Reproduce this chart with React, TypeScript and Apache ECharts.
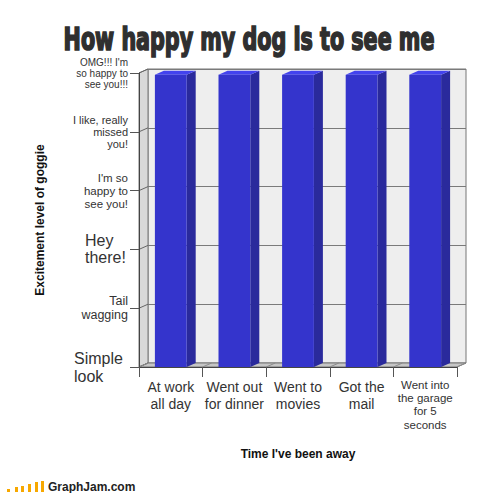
import React, { useEffect, useRef } from 'react';
import * as echarts from 'echarts';

const TITLE = 'How happy my dog is to see me';
const categories = [
  'At work\nall day',
  'Went out\nfor dinner',
  'Went to\nmovies',
  'Got the\nmail',
  'Went into\nthe garage\nfor 5\nseconds',
];
const excitement = [4.97, 4.97, 4.97, 4.97, 4.97];
const levelLabels = [
  'Simple\nlook',
  'Tail\nwagging',
  'Hey\nthere!',
  "I'm so\nhappy to\nsee you!",
  'I like, really\nmissed\nyou!',
  "OMG!!! I'm\nso happy to\nsee you!!!",
];
const levelMin = 0;
const levelMax = 5;
const levelStep = 1;
const yName = 'Excitement level of goggie';
const xName = "Time I've been away";
const LOGO = 'GraphJam.com';

const DX = 9;
const DY = -4;
const FONT = '"Liberation Sans", Arial, sans-serif';

export default function App() {
  const ref = useRef<HTMLDivElement>(null);
  useEffect(() => {
    if (!ref.current) return;
    const chart = echarts.init(ref.current, undefined, { renderer: 'svg' });

    const titleFamily = '"DejaVu Sans Condensed", "DejaVu Sans", sans-serif';
    let titleScale = 0.8;
    try {
      const ctx = document.createElement('canvas').getContext('2d');
      if (ctx) {
        ctx.font = `bold 30px ${titleFamily}`;
        const w = ctx.measureText(TITLE).width;
        if (w > 0) titleScale = 371 / w;
      }
    } catch (e) {}

    const barData = categories.map((_, i) => [i, excitement[i]]);
    const ticks: number[] = [];
    for (let v = levelMin; v <= levelMax + 1e-9; v += levelStep) ticks.push(v);

    const yRich: any = {
      y0: { fontSize: 16, lineHeight: 18, width: 54, align: 'left', color: '#333', fontFamily: FONT },
      y1: { fontSize: 12.5, lineHeight: 14, color: '#333', fontFamily: FONT },
      y2: { fontSize: 16, lineHeight: 17, width: 43, align: 'left', color: '#333', fontFamily: FONT },
      y3: { fontSize: 11.5, lineHeight: 13, color: '#333', fontFamily: FONT },
      y4: { fontSize: 11, lineHeight: 12, color: '#333', fontFamily: FONT },
      y5: { fontSize: 10, lineHeight: 11, color: '#333', fontFamily: FONT },
    };

    const logoHeights = [3, 5, 6, 8, 10, 11];
    const logoX = [7, 15, 21, 28, 35, 41];

    const option: any = {
      animation: false,
      backgroundColor: '#ffffff',
      grid: [
        { left: 139, top: 73, right: 43, bottom: 126, outerBoundsMode: 'none', containLabel: false, z: 3 },
        {
          left: 139 + DX, top: 73 + DY, right: 43 - DX, bottom: 126 - DY,
          show: true, backgroundColor: '#eeeeee', borderColor: '#777', borderWidth: 1,
          outerBoundsMode: 'none', containLabel: false, z: 0,
        },
      ],
      xAxis: [
        {
          type: 'category', gridIndex: 0, data: categories, z: 10,
          boundaryGap: true,
          name: xName, nameLocation: 'middle', nameGap: 81,
          nameTextStyle: { fontSize: 12, fontWeight: 'bold', color: '#111', fontFamily: FONT },
          axisLine: { show: true, lineStyle: { color: '#444', width: 1 } },
          axisTick: { show: true, length: 10, lineStyle: { color: '#555' } },
          axisLabel: {
            interval: 0, margin: 11, hideOverlap: false,
            formatter: (v: string, i: number) => {
              const k = i === 4 ? 'cs' : 'c';
              return v.split('\n').map((s) => `{${k}|${s}}`).join('\n');
            },
            rich: {
              c: { fontSize: 14, lineHeight: 17, color: '#333', fontFamily: FONT },
              cs: { fontSize: 11.5, lineHeight: 13.3, color: '#333', fontFamily: FONT },
            },
          },
          splitLine: { show: false },
        },
        { type: 'category', gridIndex: 1, data: categories, show: false },
      ],
      yAxis: [
        {
          type: 'value', gridIndex: 0, min: levelMin, max: levelMax, interval: levelStep, z: 10,
          name: yName, nameLocation: 'middle', nameGap: 93,
          nameTextStyle: { fontSize: 12, fontWeight: 'bold', color: '#111', fontFamily: FONT },
          axisLine: { show: true, lineStyle: { color: '#444', width: 1 } },
          axisTick: { show: true, length: 9, lineStyle: { color: '#555' } },
          splitLine: { show: false },
          axisLabel: {
            margin: 11,
            formatter: (v: number) => {
              const i = Math.round((v - levelMin) / levelStep);
              const t = levelLabels[i];
              if (t === undefined) return '';
              return t.split('\n').map((s) => `{y${i}|${s}}`).join('\n');
            },
            rich: yRich,
          },
        },
        {
          type: 'value', gridIndex: 1, min: levelMin, max: levelMax, interval: levelStep,
          axisLine: { show: false }, axisTick: { show: false }, axisLabel: { show: false },
          splitLine: { show: true, lineStyle: { color: '#7a7a7a', width: 1 } },
        },
      ],
      series: [
        {
          type: 'custom',
          xAxisIndex: 0, yAxisIndex: 0, z: 1,
          data: [[0, 0]],
          silent: true,
          renderItem: (params: any, api: any) => {
            const cs = params.coordSys;
            const x0 = cs.x, y0 = cs.y, w = cs.width, h = cs.height;
            const yb = y0 + h;
            const children: any[] = [];
            children.push({
              type: 'polygon',
              shape: { points: [[x0, y0], [x0 + DX, y0 + DY], [x0 + DX, yb + DY], [x0, yb]] },
              style: { fill: '#d9d9d9', stroke: '#777', lineWidth: 1 },
            });
            children.push({
              type: 'polygon',
              shape: { points: [[x0, yb], [x0 + DX, yb + DY], [x0 + w + DX, yb + DY], [x0 + w, yb]] },
              style: { fill: '#c6c6c6', stroke: '#777', lineWidth: 1 },
            });
            ticks.forEach((v) => {
              const y = api.coord([0, v])[1];
              children.push({
                type: 'line',
                shape: { x1: x0, y1: y, x2: x0 + DX, y2: y + DY },
                style: { stroke: '#666', lineWidth: 1 },
              });
            });
            const band = api.size([1, 0])[0];
            for (let i = 0; i <= categories.length; i++) {
              const x = api.coord([Math.min(i, categories.length - 1), 0])[0] + (i === categories.length ? band / 2 : -band / 2);
              children.push({
                type: 'line',
                shape: { x1: x, y1: yb, x2: x + DX, y2: yb + DY },
                style: { stroke: '#8a8a8a', lineWidth: 1 },
              });
            }
            return { type: 'group', children };
          },
        },
        {
          type: 'custom',
          xAxisIndex: 0, yAxisIndex: 0, z: 2,
          data: barData,
          encode: { x: 0, y: 1 },
          renderItem: (params: any, api: any) => {
            const idx = api.value(0);
            const val = api.value(1);
            const top = api.coord([idx, val]);
            const base = api.coord([idx, levelMin]);
            const band = api.size([1, 0])[0];
            const bw = band * 0.5;
            const xl = top[0] - bw / 2;
            const xr = top[0] + bw / 2;
            const yt = top[1];
            const yb = base[1];
            return {
              type: 'group',
              children: [
                {
                  type: 'polygon',
                  shape: { points: [[xr, yt], [xr + DX, yt + DY], [xr + DX, yb + DY], [xr, yb]] },
                  style: { fill: '#2a2a9c' },
                },
                {
                  type: 'polygon',
                  shape: { points: [[xl, yt], [xl + DX, yt + DY], [xr + DX, yt + DY], [xr, yt]] },
                  style: { fill: '#4343ee' },
                },
                {
                  type: 'rect',
                  shape: { x: xl, y: yt, width: bw, height: yb - yt },
                  style: { fill: '#3434cc' },
                },
              ],
            };
          },
        },
      ],
      graphic: [
        {
          type: 'text',
          x: 249, y: 39, scaleX: titleScale, scaleY: 1.04,
          style: {
            text: TITLE,
            fontSize: 30, fontWeight: 'bold', fontFamily: titleFamily,
            fill: '#2f2f2f', stroke: '#2f2f2f', lineWidth: 1.6,
            align: 'center', verticalAlign: 'middle',
            textAlign: 'center', textVerticalAlign: 'middle',
          },
        },
        ...logoHeights.map((hgt, i) => ({
          type: 'rect',
          shape: { x: logoX[i], y: 492 - hgt, width: 3, height: hgt },
          style: { fill: '#f7a800' },
        })),
        {
          type: 'text',
          x: 48, y: 487,
          style: {
            text: LOGO, fontSize: 12, fontWeight: 'bold', fontFamily: FONT, fill: '#222',
            align: 'left', verticalAlign: 'middle', textAlign: 'left', textVerticalAlign: 'middle',
          },
        },
      ],
    };
    chart.setOption(option);
    return () => chart.dispose();
  }, []);
  return (
    <div
      ref={ref}
      style={{ position: 'fixed', left: 0, top: 0, width: 500, height: 493, background: '#fff' }}
    />
  );
}
